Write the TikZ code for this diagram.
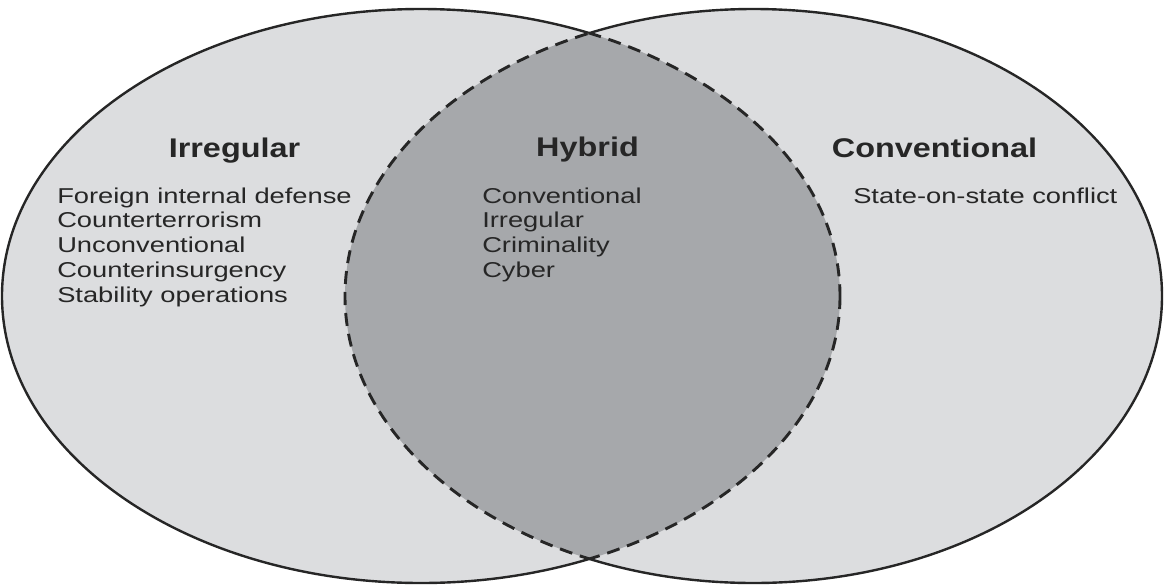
\documentclass[tikz,border=0pt]{standalone}
\usepackage{fontspec}
\setmainfont{Liberation Sans}
\definecolor{lightgr}{HTML}{DCDDDF}
\definecolor{darkgr}{HTML}{A6A8AB}
\definecolor{txt}{HTML}{262626}
\tikzset{
  head/.style={anchor=base, xscale=1.2, text=txt, font=\fontsize{27}{32}\selectfont\bfseries, inner sep=0pt},
  listtxt/.style={anchor=base west, xscale=1.27, text=txt, font=\fontsize{21.5}{25}\selectfont, inner sep=0pt},
  outline/.style={line width=2.4pt, draw=black!85},
  dashline/.style={line width=2.9pt, draw=black!85, dash pattern=on 13pt off 8pt}
}
\begin{document}
\begin{tikzpicture}[x=1pt,y=-1pt]
\useasboundingbox (0,0) rectangle (1164,587);
\fill[white] (0,0) rectangle (1164,587);
% fills
\fill[lightgr] (421,296) ellipse [x radius=419, y radius=287];
\fill[lightgr] (753.5,296) ellipse [x radius=408.5, y radius=287];
\begin{scope}
  \clip (421,296) ellipse [x radius=419, y radius=287];
  \fill[darkgr] (753.5,296) ellipse [x radius=408.5, y radius=287];
\end{scope}
% dashed borders of the intersection
\begin{scope}
  \clip (753.5,296) ellipse [x radius=408.5, y radius=287];
  \draw[dashline] (421,296) ellipse [x radius=419, y radius=287];
\end{scope}
\begin{scope}
  \clip (421,296) ellipse [x radius=419, y radius=287];
  \draw[dashline] (753.5,296) ellipse [x radius=408.5, y radius=287];
\end{scope}
% solid outer borders
\begin{scope}[even odd rule]
  \clip (-10,-10) rectangle (1174,597) (753.5,296) ellipse [x radius=408.5, y radius=287];
  \draw[outline] (421,296) ellipse [x radius=419, y radius=287];
\end{scope}
\begin{scope}[even odd rule]
  \clip (-10,-10) rectangle (1174,597) (421,296) ellipse [x radius=419, y radius=287];
  \draw[outline] (753.5,296) ellipse [x radius=408.5, y radius=287];
\end{scope}
% headings
\node[head] (irr) at (234.5,157) {Irregular};
\node[head] (hyb) at (587.5,156) {Hybrid};
\node[head] (conv) at (934.5,157) {Conventional};
% irregular list
\node[listtxt] (irr1) at (57,203) {Foreign internal defense};
\node[listtxt] (irr2) at (57,227.5) {Counterterrorism};
\node[listtxt] (irr3) at (57,252) {Unconventional};
\node[listtxt] (irr4) at (57,277) {Counterinsurgency};
\node[listtxt] (irr5) at (57,302) {Stability operations};
% hybrid list
\node[listtxt] (hyb1) at (482,203) {Conventional};
\node[listtxt] (hyb2) at (482,227.5) {Irregular};
\node[listtxt] (hyb3) at (482,252) {Criminality};
\node[listtxt] (hyb4) at (482,277) {Cyber};
% conventional list
\node[listtxt] (conv1) at (853,203) {State-on-state conflict};
\end{tikzpicture}
\end{document}
